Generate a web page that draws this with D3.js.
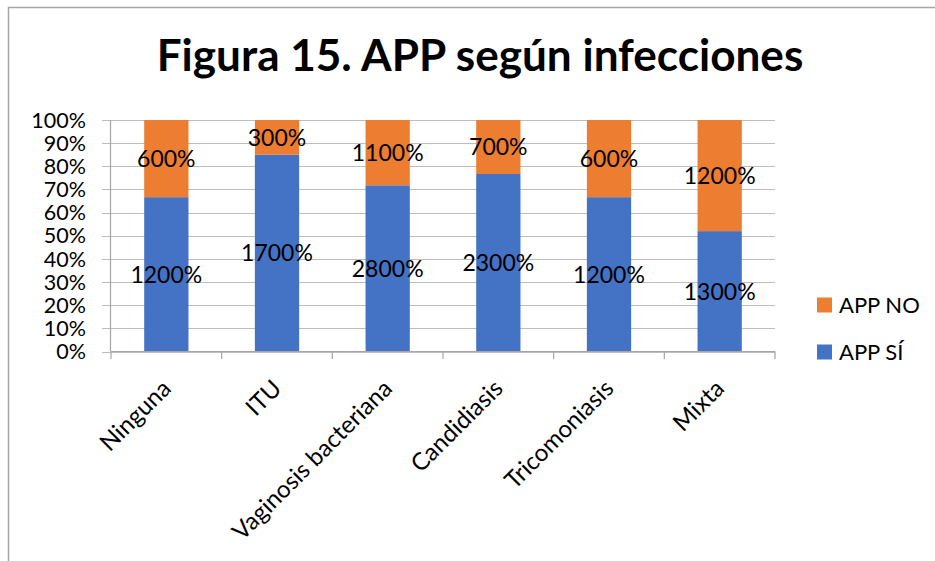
<!DOCTYPE html>
<html>
<head>
<meta charset="utf-8">
<script src="https://cdn.jsdelivr.net/npm/d3@7/dist/d3.min.js"></script>
<style>
  html, body { margin: 0; padding: 0; background: #fff; }
  svg { display: block; }
  text { font-family: Lato, "Open Sans", sans-serif; fill: #000; }
</style>
</head>
<body>
<svg id="chart" width="935" height="561"></svg>
<script>
const title = "Figura 15. APP según infecciones";
const categories = ["Ninguna", "ITU", "Vaginosis bacteriana", "Candidiasis", "Tricomoniasis", "Mixta"];
const appSi = [12, 17, 28, 23, 12, 13];
const appNo = [6, 3, 11, 7, 6, 12];
const seriesNames = ["APP SÍ", "APP NO"];
const seriesColors = ["#4472C4", "#ED7D31"];
const yTicks = [0, 0.1, 0.2, 0.3, 0.4, 0.5, 0.6, 0.7, 0.8, 0.9, 1.0];

const svg = d3.select("#chart");
const W = 935, H = 561;

// frame
svg.append("path")
  .attr("d", `M8.5,${H} L8.5,7.5 L${W},7.5`)
  .attr("fill", "none").attr("stroke", "#a6a6a6").attr("stroke-width", 1.5);

const x = d3.scaleBand().domain(categories).range([111, 775]).paddingInner(0.6).paddingOuter(0.3);
const y = d3.scaleLinear().domain([0, 1]).range([351.5, 120]);

// gridlines
svg.append("g").selectAll("line").data(yTicks).join("line")
  .attr("x1", 102).attr("x2", 775)
  .attr("y1", d => Math.round(y(d)) + 0.5).attr("y2", d => Math.round(y(d)) + 0.5)
  .attr("stroke", "#bdbdbd").attr("stroke-width", 1.2);

// y axis line
svg.append("line").attr("x1", 110.5).attr("x2", 110.5).attr("y1", y(1)).attr("y2", y(0))
  .attr("stroke", "#a6a6a6").attr("stroke-width", 1.2);

// y tick labels
svg.append("g").selectAll("text").data(yTicks).join("text")
  .attr("x", 86).attr("y", d => y(d)).attr("dy", "0.36em")
  .attr("text-anchor", "end").style("font-size", "21.5px")
  .text(d => d3.format(".0%")(d));

// stacked data
const rows = categories.map((c, i) => {
  const t = appSi[i] + appNo[i];
  return { cat: c, si: appSi[i], no: appNo[i], siP: appSi[i] / t, noP: appNo[i] / t };
});

const segs = [];
rows.forEach(r => {
  segs.push({ cat: r.cat, s: 0, y0: 0, y1: r.siP, v: r.si });
  segs.push({ cat: r.cat, s: 1, y0: r.siP, y1: 1, v: r.no });
});

svg.append("g").selectAll("rect").data(segs).join("rect")
  .attr("x", d => x(d.cat)).attr("width", x.bandwidth())
  .attr("y", d => y(d.y1)).attr("height", d => y(d.y0) - y(d.y1))
  .attr("fill", d => seriesColors[d.s]);

// x axis line + ticks
svg.append("line").attr("x1", 111).attr("x2", 775).attr("y1", 351.5).attr("y2", 351.5)
  .attr("stroke", "#a6a6a6").attr("stroke-width", 1.2);
const bounds = d3.range(categories.length + 1).map(i => 111 + i * (775 - 111) / categories.length);
svg.append("g").selectAll("line").data(bounds).join("line")
  .attr("x1", d => d).attr("x2", d => d).attr("y1", 351.5).attr("y2", 359)
  .attr("stroke", "#a6a6a6").attr("stroke-width", 1.2);

// data labels
svg.append("g").selectAll("text").data(segs).join("text")
  .attr("x", d => x(d.cat) + x.bandwidth() / 2)
  .attr("y", d => y((d.y0 + d.y1) / 2)).attr("dy", "0.36em")
  .attr("text-anchor", "middle").style("font-size", "23px")
  .text(d => (d.v * 100) + "%");

// category labels
svg.append("g").selectAll("text").data(categories).join("text")
  .attr("transform", d => `translate(${x(d) + x.bandwidth() / 2 + 6},390) rotate(-45)`)
  .attr("text-anchor", "end").style("font-size", "24px")
  .text(d => d);

// title
const t = svg.append("text").attr("x", 480).attr("y", 71)
  .attr("text-anchor", "middle").style("font-size", "42px").style("font-weight", "bold")
  .text(title);
const tw = t.node().getComputedTextLength();
t.style("font-size", (42 * 646 / tw).toFixed(1) + "px");

// legend
const legend = [{ n: seriesNames[1], c: seriesColors[1], y: 305 }, { n: seriesNames[0], c: seriesColors[0], y: 352 }];
const lg = svg.append("g").selectAll("g").data(legend).join("g");
lg.append("rect").attr("x", 817).attr("y", d => d.y - 7.5).attr("width", 15).attr("height", 15).attr("fill", d => d.c);
lg.append("text").attr("x", 839).attr("y", d => d.y).attr("dy", "0.36em").style("font-size", "22px").text(d => d.n);
</script>
</body>
</html>
